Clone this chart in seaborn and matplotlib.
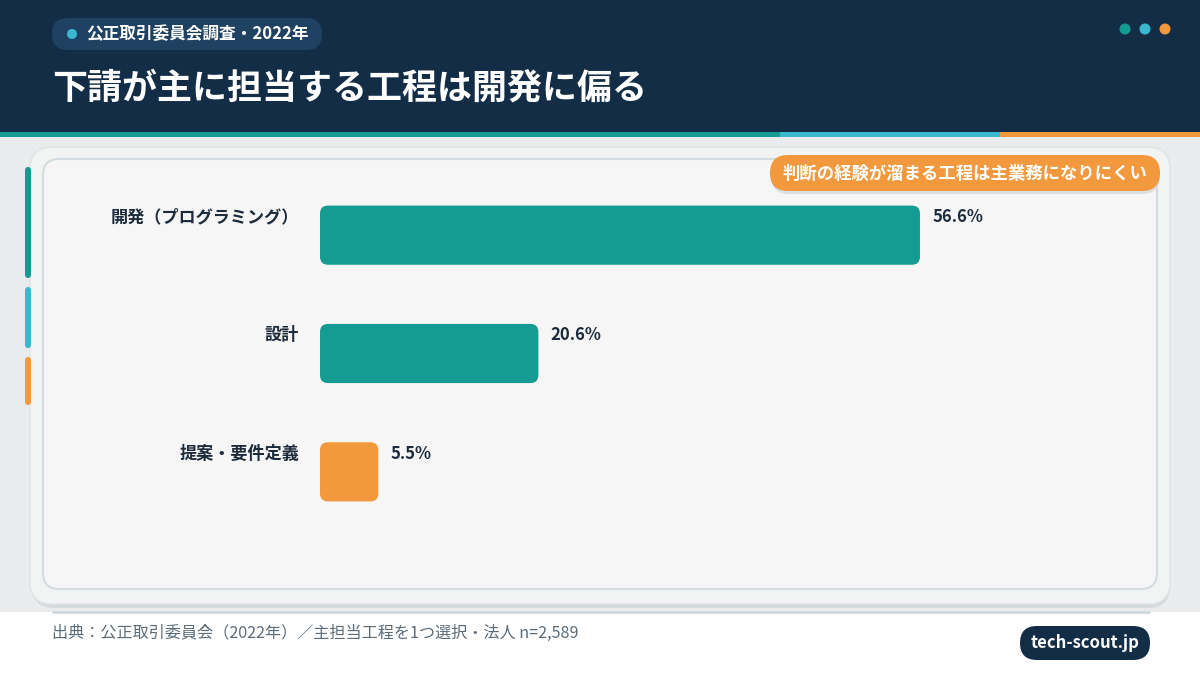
import matplotlib
matplotlib.use("Agg")
import matplotlib.pyplot as plt
from matplotlib.patches import FancyBboxPatch, Rectangle, Circle
import seaborn as sns
import pandas as pd

# ---- data ----
categories = ["開発（プログラミング）", "設計", "提案・要件定義"]
values = [56.6, 20.6, 5.5]
value_labels = ["56.6%", "20.6%", "5.5%"]
bar_colors = ["#149b92", "#149b92", "#f2993e"]

badge_text = "公正取引委員会調査・2022年"
title_text = "下請が主に担当する工程は開発に偏る"
note_text = "判断の経験が溜まる工程は主業務になりにくい"
source_text = "出典：公正取引委員会（2022年）／主担当工程を1つ選択・法人 n=2,589"
brand_text = "tech-scout.jp"

NAVY = "#132d47"
TEAL = "#149b92"
BLUE = "#3bb8d0"
ORANGE = "#f2993e"

sns.set_theme(style="white")
plt.rcParams["font.family"] = ["Noto Sans CJK JP", "DejaVu Sans"]

W, H = 1200, 675
fig = plt.figure(figsize=(12, 6.75), dpi=100)
fig.patch.set_facecolor("white")

# ---- decoration layer in pixel coordinates ----
bg = fig.add_axes([0, 0, 1, 1])
bg.set_xlim(0, W)
bg.set_ylim(H, 0)
bg.axis("off")
bg.set_zorder(0)

# header
bg.add_patch(Rectangle((0, 0), W, 133, color=NAVY, lw=0))
bg.add_patch(Rectangle((0, 132), 780, 5, color=TEAL, lw=0))
bg.add_patch(Rectangle((780, 132), 220, 5, color=BLUE, lw=0))
bg.add_patch(Rectangle((1000, 132), 200, 5, color=ORANGE, lw=0))

# badge
bg.add_patch(FancyBboxPatch((52, 18), 270, 32, boxstyle="round,pad=0,rounding_size=16",
                            fc="#1f4262", ec="none"))
bg.add_patch(Circle((72, 34), 5, color=BLUE, lw=0))
bg.text(86, 34.5, badge_text, color="white", fontsize=12, fontweight="bold",
        va="center", ha="left")

# title
bg.text(52, 88, title_text, color="white", fontsize=25.2, fontweight="bold",
        va="center", ha="left")

# top-right dots
for cx, c in zip([1125, 1145, 1165], [TEAL, BLUE, ORANGE]):
    bg.add_patch(Circle((cx, 29), 5.5, color=c, lw=0))

# body background
bg.add_patch(Rectangle((0, 137), W, 475, color="#e9ebec", lw=0))

# card
bg.add_patch(FancyBboxPatch((32, 150), 1138, 458, boxstyle="round,pad=0,rounding_size=22",
                            fc="#d5dadc", ec="none"))
bg.add_patch(FancyBboxPatch((30, 147), 1140, 457, boxstyle="round,pad=0,rounding_size=22",
                            fc="#f2f4f4", ec="#dfe4e6", lw=1))
bg.add_patch(FancyBboxPatch((43, 159), 1114, 430, boxstyle="round,pad=0,rounding_size=16",
                            fc="#f6f6f6", ec="#d3dcdf", lw=1.5))

# left accent bars
for (y0, y1), c in zip([(167, 278), (287, 348), (357, 405)], [TEAL, BLUE, ORANGE]):
    bg.add_patch(FancyBboxPatch((25, y0), 6, y1 - y0, boxstyle="round,pad=0,rounding_size=3",
                                fc=c, ec="none"))

# note pill
bg.add_patch(FancyBboxPatch((771, 158), 389, 36, boxstyle="round,pad=0,rounding_size=18",
                            fc="#d9dfe2", ec="none"))
bg.add_patch(FancyBboxPatch((770, 155), 390, 36, boxstyle="round,pad=0,rounding_size=18",
                            fc=ORANGE, ec="none"))
bg.text(965, 173.5, note_text, color="white", fontsize=12.5, fontweight="bold",
        va="center", ha="center")

# footer
bg.plot([52, 1150], [612, 612], color="#cfd8dc", lw=2, solid_capstyle="butt")
bg.text(52, 633, source_text, color="#5b6b78", fontsize=11.6, va="center", ha="left")
bg.add_patch(FancyBboxPatch((1020, 626), 130, 34, boxstyle="round,pad=0,rounding_size=17",
                            fc=NAVY, ec="none"))
bg.text(1085, 643, brand_text, color="white", fontsize=12, fontweight="bold",
        va="center", ha="center")

# ---- bar chart ----
ax_l, ax_r, ax_t, ax_b = 320, 1115, 176, 531
ax = fig.add_axes([ax_l / W, 1 - ax_b / H, (ax_r - ax_l) / W, (ax_b - ax_t) / H])
ax.set_zorder(2)
ax.patch.set_alpha(0)

df = pd.DataFrame({"category": categories, "value": values})
sns.barplot(data=df, x="value", y="category", hue="category", palette=bar_colors,
            orient="h", width=0.5, saturation=1, legend=False, ax=ax)
ax.set_xlim(0, 75)
ax.set_ylim(2.5, -0.5)

px_x = (ax_r - ax_l) / 75.0
px_y = (ax_b - ax_t) / 3.0
for p in list(ax.patches):
    x, y = p.get_x(), p.get_y()
    w, h = p.get_width(), p.get_height()
    fc = p.get_facecolor()
    p.remove()
    ax.add_patch(FancyBboxPatch((x, y), w, h,
                                boxstyle=f"round,pad=0,rounding_size={8 / px_x}",
                                mutation_aspect=px_x / px_y,
                                fc=fc, ec="none"))

for i, (v, lab) in enumerate(zip(values, value_labels)):
    ax.annotate(lab, xy=(v, i), xytext=(9, 13), textcoords="offset points",
                fontsize=12, fontweight="bold", color="#1d2b3a",
                va="center", ha="left", annotation_clip=False)
    ax.annotate(categories[i], xy=(0, i), xytext=(-15, 13), textcoords="offset points",
                fontsize=12.3, fontweight="bold", color="#1d2b3a",
                va="center", ha="right", annotation_clip=False)

ax.set_xlabel("")
ax.set_ylabel("")
ax.set_xticks([])
ax.set_yticks([])
for s in ax.spines.values():
    s.set_visible(False)

fig.savefig("out.png", dpi=100, facecolor=fig.get_facecolor())
